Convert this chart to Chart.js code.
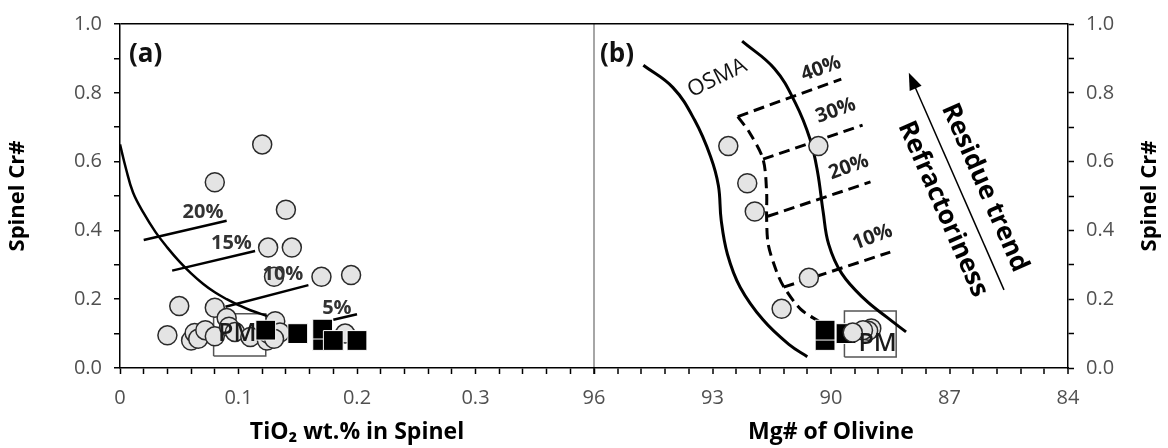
<!DOCTYPE html>
<html>
<head>
<meta charset="utf-8">
<script src="https://cdn.jsdelivr.net/npm/chart.js@4.4.1/dist/chart.umd.min.js"></script>
<style>
  html, body { margin: 0; padding: 0; background: #fff; }
  #wrap { width: 1168px; height: 448px; }
</style>
</head>
<body>
<div id="wrap"><canvas id="c" width="1168" height="448"></canvas></div>
<script>
// ---------- Panel (a): spinel TiO2 (wt.%) vs spinel Cr# ----------
const tio2Circles = [
  [0.12, 0.65], [0.08, 0.54], [0.14, 0.46], [0.125, 0.35], [0.145, 0.35],
  [0.13, 0.265], [0.17, 0.265], [0.195, 0.27], [0.05, 0.18], [0.08, 0.175],
  [0.19, 0.10], [0.04, 0.095], [0.06, 0.08], [0.063, 0.102], [0.066, 0.085],
  [0.072, 0.11], [0.08, 0.092], [0.09, 0.145], [0.092, 0.12], [0.097, 0.105],
  [0.11, 0.09], [0.124, 0.08], [0.125, 0.10], [0.131, 0.136], [0.135, 0.103],
  [0.13, 0.085]
];
const tio2Squares = [
  [0.123, 0.11], [0.15, 0.10], [0.171, 0.08], [0.171, 0.113], [0.18, 0.08], [0.20, 0.08]
];
// fractional melting trend of residual spinel
const tio2MeltCurve = [
  [0.0, 0.65], [0.005, 0.58], [0.011, 0.51], [0.02, 0.45], [0.03, 0.395],
  [0.04, 0.35], [0.05, 0.31], [0.06, 0.275], [0.07, 0.245], [0.08, 0.22],
  [0.09, 0.20], [0.10, 0.183], [0.11, 0.168], [0.125, 0.15]
];
const tio2Melt20 = [[0.02, 0.372], [0.09, 0.428]];
const tio2Melt15 = [[0.044, 0.283], [0.114, 0.34]];
const tio2Melt10 = [[0.089, 0.178], [0.159, 0.241]];
const tio2Melt5  = [[0.18, 0.14], [0.20, 0.156]];
const tio2PmBox  = [[0.079, 0.035], [0.123, 0.035], [0.123, 0.158], [0.079, 0.158], [0.079, 0.035]];
const tio2MeltLabels = [['20%', 0.07, 0.453], ['15%', 0.094, 0.363], ['10%', 0.1375, 0.272], ['5%', 0.183, 0.175]];

// ---------- Panel (b): olivine Mg# vs spinel Cr# ----------
const mgCircles = [
  [92.6, 0.645], [92.12, 0.537], [91.93, 0.455], [90.32, 0.645], [90.56, 0.262],
  [91.25, 0.172], [88.98, 0.115], [89.06, 0.108], [89.19, 0.11], [89.45, 0.103]
];
const mgSquares = [[90.15, 0.08], [90.15, 0.11], [89.62, 0.10]];
const osmaLeft = [
  [94.75, 0.88], [94.0, 0.815], [93.45, 0.72], [93.05, 0.615], [92.85, 0.53],
  [92.78, 0.43], [92.62, 0.33], [92.3, 0.235], [91.72, 0.14], [91.05, 0.067], [90.6, 0.033]
];
const osmaRight = [
  [92.25, 0.95], [91.43, 0.87], [90.9, 0.77], [90.53, 0.665], [90.34, 0.57],
  [90.2, 0.455], [90.06, 0.36], [89.73, 0.275], [89.15, 0.2], [88.58, 0.147], [88.1, 0.105]
];
const mgMeltCurve = [
  [92.36, 0.731], [92.06, 0.684], [91.72, 0.607], [91.63, 0.512], [91.63, 0.436],
  [91.59, 0.36], [91.39, 0.284], [91.2, 0.237], [90.77, 0.171], [90.3, 0.135]
];
const mgMelt40 = [[92.36, 0.731], [89.74, 0.84]];
const mgMelt30 = [[91.72, 0.607], [89.2, 0.706]];
const mgMelt20 = [[91.6, 0.441], [89.0, 0.541]];
const mgMelt10 = [[91.2, 0.235], [88.5, 0.337]];
const mgPmBox  = [[89.66, 0.032], [88.35, 0.032], [88.35, 0.166], [89.66, 0.166], [89.66, 0.032]];
const mgMeltLabels = [['40%', 90.25, 0.87], ['30%', 89.88, 0.748], ['20%', 89.55, 0.584], ['10%', 88.95, 0.38]];
const residueArrow = [[85.62, 0.227], [88.03, 0.858]];

// ---------- axes ----------
const crTickLabels   = ['0.0', '0.2', '0.4', '0.6', '0.8', '1.0'];
const tio2TickLabels = ['0', '0.1', '0.2', '0.3'];
const mgTickLabels   = ['84', '87', '90', '93', '96'];

const FONT = "'Open Sans', 'Liberation Sans', sans-serif";
const pts = arr => arr.map(([x, y]) => ({ x, y }));

function lineSet(data, axis, opts) {
  return Object.assign({
    type: 'scatter', data: pts(data), xAxisID: axis, yAxisID: 'y',
    showLine: true, pointRadius: 0, pointHoverRadius: 0, borderColor: '#000',
    borderWidth: 2.5, tension: 0, fill: false, order: 5
  }, opts || {});
}
function circleSet(data, axis, order) {
  return {
    type: 'scatter', data: pts(data), xAxisID: axis, yAxisID: 'y',
    pointStyle: 'circle', pointRadius: 9.5, pointHoverRadius: 9.5,
    backgroundColor: '#e4e4e4', borderColor: '#2a2a2a', borderWidth: 1.5, order
  };
}
function squareSet(data, axis, order) {
  return {
    type: 'scatter', data: pts(data), xAxisID: axis, yAxisID: 'y',
    pointStyle: 'rect', pointRadius: 14, pointHoverRadius: 14,
    backgroundColor: '#000', borderColor: '#fff', borderWidth: 1, order
  };
}
const dash = { borderDash: [11, 6], borderWidth: 3 };

const datasets = [
  // panel (a)
  lineSet(tio2PmBox, 'xa', { borderColor: '#555', borderWidth: 1.5, order: 8 }),
  lineSet(tio2MeltCurve, 'xa', { tension: 0.4 }),
  lineSet(tio2Melt20, 'xa'), lineSet(tio2Melt15, 'xa'),
  lineSet(tio2Melt10, 'xa'), lineSet(tio2Melt5, 'xa'),
  circleSet(tio2Circles, 'xa', 3),
  squareSet(tio2Squares, 'xa', 2),
  // panel (b)
  lineSet(mgPmBox, 'xb', { borderColor: '#555', borderWidth: 1.5, order: 8 }),
  lineSet(osmaLeft, 'xb', { tension: 0.4, borderWidth: 3 }),
  lineSet(osmaRight, 'xb', { tension: 0.4, borderWidth: 3 }),
  lineSet(mgMeltCurve, 'xb', Object.assign({ tension: 0.3 }, dash)),
  lineSet(mgMelt40, 'xb', dash), lineSet(mgMelt30, 'xb', dash),
  lineSet(mgMelt20, 'xb', dash), lineSet(mgMelt10, 'xb', dash),
  squareSet(mgSquares, 'xb', 4),
  circleSet(mgCircles, 'xb', 3)
];

const near = (a, b) => Math.abs(a - b) < 1e-6;
const tickFont = { family: FONT, size: 20 };
const titleFont = { family: FONT, size: 23, weight: 'bold' };
const TICK_COLOR = '#505050';

// text, arrow and right-hand axis title
const annotations = {
  id: 'annotations',
  afterDatasetsDraw(chart) {
    const { ctx, chartArea, scales } = chart;
    const xa = scales.xa, xb = scales.xb, y = scales.y;
    function text(str, px, py, font, color, angle, align) {
      ctx.save();
      ctx.translate(px, py);
      ctx.rotate((angle || 0) * Math.PI / 180);
      ctx.font = font;
      ctx.fillStyle = color;
      ctx.textAlign = align || 'center';
      ctx.textBaseline = 'middle';
      ctx.fillText(str, 0, 0);
      ctx.restore();
    }
    const pctFont = `bold 20px ${FONT}`;
    tio2MeltLabels.forEach(([t, vx, vy]) =>
      text(t, xa.getPixelForValue(vx), y.getPixelForValue(vy), pctFont, '#333', 0));
    mgMeltLabels.forEach(([t, vx, vy]) =>
      text(t, xb.getPixelForValue(vx), y.getPixelForValue(vy), pctFont, '#222', -20));

    text('PM', xa.getPixelForValue(0.099), y.getPixelForValue(0.099), `600 25px ${FONT}`, '#1a1a1a', 0);
    text('PM', xb.getPixelForValue(88.82), y.getPixelForValue(0.071), `600 25px ${FONT}`, '#1a1a1a', 0);

    text('(a)', chartArea.left + 9, chartArea.top + 31, `bold 26px ${FONT}`, '#111', 0, 'left');
    text('(b)', xb.getPixelForValue(96) + 6, chartArea.top + 31, `bold 26px ${FONT}`, '#111', 0, 'left');
    text('OSMA', xb.getPixelForValue(92.88), y.getPixelForValue(0.843), `22px ${FONT}`, '#111', -26);

    // residue trend arrow
    const [tail, tip] = residueArrow;
    const x0 = xb.getPixelForValue(tail[0]), y0 = y.getPixelForValue(tail[1]);
    const x1 = xb.getPixelForValue(tip[0]),  y1 = y.getPixelForValue(tip[1]);
    const ang = Math.atan2(y1 - y0, x1 - x0);
    ctx.save();
    ctx.strokeStyle = '#000';
    ctx.lineWidth = 1.5;
    ctx.beginPath();
    ctx.moveTo(x0, y0);
    ctx.lineTo(x1 - 10 * Math.cos(ang), y1 - 10 * Math.sin(ang));
    ctx.stroke();
    ctx.fillStyle = '#000';
    ctx.beginPath();
    ctx.moveTo(x1, y1);
    ctx.lineTo(x1 - 17 * Math.cos(ang) + 6.5 * Math.sin(ang), y1 - 17 * Math.sin(ang) - 6.5 * Math.cos(ang));
    ctx.lineTo(x1 - 17 * Math.cos(ang) - 6.5 * Math.sin(ang), y1 - 17 * Math.sin(ang) + 6.5 * Math.cos(ang));
    ctx.closePath();
    ctx.fill();
    ctx.restore();
    const rot = ang * 180 / Math.PI + 180;
    text('Residue trend', xb.getPixelForValue(86.11), y.getPixelForValue(0.524), `bold 26px ${FONT}`, '#000', rot);
    text('Refractoriness', xb.getPixelForValue(87.17), y.getPixelForValue(0.462), `bold 26px ${FONT}`, '#000', rot);

    // right-hand axis title, read bottom to top like the left one
    const ry = scales.y2;
    text('Spinel Cr#', ry.right - 18, (chartArea.top + chartArea.bottom) / 2, `bold 22px ${FONT}`, '#000', -90);
  }
};

new Chart(document.getElementById('c'), {
  type: 'scatter',
  data: { datasets },
  options: {
    responsive: false,
    animation: false,
    devicePixelRatio: 1,
    layout: { padding: { top: 15, left: 0, right: 0, bottom: 0 } },
    plugins: { legend: { display: false }, tooltip: { enabled: false } },
    scales: {
      xa: {
        type: 'linear', position: 'bottom', stack: 'panels', stackWeight: 1,
        min: 0, max: 0.4,
        ticks: {
          stepSize: 0.02, autoSkip: false, maxRotation: 0, minRotation: 0,
          color: TICK_COLOR, font: tickFont, padding: 12,
          callback: v => {
            const i = tio2TickLabels.findIndex(l => near(parseFloat(l), v));
            return i >= 0 ? tio2TickLabels[i] : '';
          }
        },
        grid: { drawOnChartArea: false, drawTicks: true, tickLength: 6, tickColor: '#000', tickWidth: 1.5 },
        border: { color: '#000', width: 1.5 },
        title: { display: true, text: 'TiO₂ wt.% in Spinel', color: '#000', font: titleFont, padding: { top: 2, bottom: 2 } },
        afterFit: s => { s.height = 80; }
      },
      xb: {
        type: 'linear', position: 'bottom', stack: 'panels', stackWeight: 1,
        min: 84, max: 96, reverse: true,
        ticks: {
          stepSize: 0.6, autoSkip: false, maxRotation: 0, minRotation: 0,
          color: TICK_COLOR, font: tickFont, padding: 12,
          callback: v => {
            const i = mgTickLabels.findIndex(l => near(parseFloat(l), v));
            return i >= 0 ? mgTickLabels[i] : '';
          }
        },
        grid: {
          drawOnChartArea: true, drawTicks: true, tickLength: 6, tickColor: '#000', tickWidth: 1.5,
          lineWidth: 2,
          color: c => (c.tick && near(c.tick.value, 96)) ? '#a6a6a6' : 'rgba(0,0,0,0)'
        },
        border: { color: '#000', width: 1.5 },
        title: { display: true, text: 'Mg# of Olivine', color: '#000', font: titleFont, padding: { top: 2, bottom: 2 } },
        afterFit: s => { s.height = 80; }
      },
      y: {
        type: 'linear', position: 'left', min: 0, max: 1,
        ticks: {
          stepSize: 0.1, color: TICK_COLOR, font: tickFont, padding: 12,
          callback: v => {
            const i = crTickLabels.findIndex(l => near(parseFloat(l), v));
            return i >= 0 ? crTickLabels[i] : '';
          }
        },
        grid: {
          drawOnChartArea: true, drawTicks: true, tickLength: 6, tickColor: '#000', tickWidth: 1.5,
          lineWidth: 1.5,
          color: c => (c.tick && near(c.tick.value, 1)) ? '#000' : 'rgba(0,0,0,0)'
        },
        border: { color: '#000', width: 1.5 },
        title: { display: true, text: 'Spinel Cr#', color: '#000', font: { family: FONT, size: 22, weight: 'bold' }, padding: { top: 5 } },
        afterFit: s => { s.width = 120; }
      },
      y2: {
        type: 'linear', position: 'right', min: 0, max: 1,
        ticks: {
          stepSize: 0.1, color: TICK_COLOR, font: tickFont, padding: 12,
          callback: v => {
            const i = crTickLabels.findIndex(l => near(parseFloat(l), v));
            return i >= 0 ? crTickLabels[i] : '';
          }
        },
        grid: { drawOnChartArea: false, drawTicks: true, tickLength: 6, tickColor: '#000', tickWidth: 1.5 },
        border: { color: '#000', width: 1.5 },
        afterFit: s => { s.width = 100; }
      }
    }
  },
  plugins: [annotations]
});
</script>
</body>
</html>
